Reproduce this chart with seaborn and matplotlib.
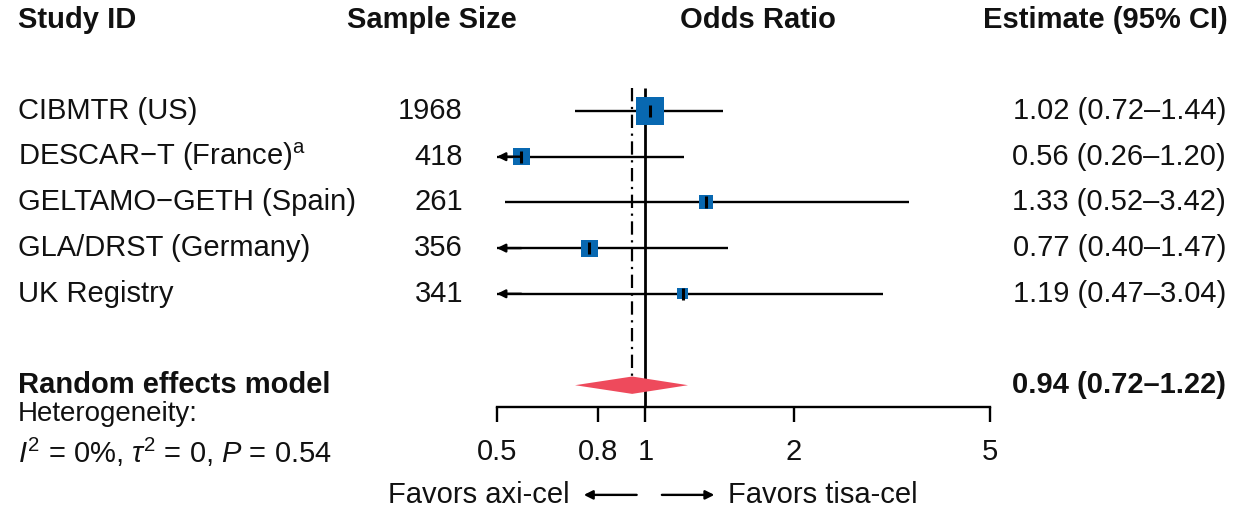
import numpy as np
import pandas as pd
import matplotlib
matplotlib.use("Agg")
import matplotlib.pyplot as plt
from matplotlib.ticker import FixedLocator, NullLocator
import seaborn as sns

# ---- data -------------------------------------------------------------
studies = [
    "CIBMTR (US)",
    "DESCAR\u2212T (France)$^{\\mathrm{a}}$",
    "GELTAMO\u2212GETH (Spain)",
    "GLA/DRST (Germany)",
    "UK Registry",
]
sample_size = [1968, 418, 261, 356, 341]
odds_ratio = [1.02, 0.56, 1.33, 0.77, 1.19]
ci_low = [0.72, 0.26, 0.52, 0.40, 0.47]
ci_high = [1.44, 1.20, 3.42, 1.47, 3.04]
weight_pct = [46.7, 17.2, 11.7, 17.2, 7.2]

pooled_or = 0.94
pooled_low = 0.72
pooled_high = 1.22
heterogeneity = r"$I^2$ = 0%, $\tau^2$ = 0, $P$ = 0.54"

x_ticks = [0.5, 0.8, 1, 2, 5]
x_tick_labels = ["0.5", "0.8", "1", "2", "5"]

# ---- style ------------------------------------------------------------
sns.set_theme(style="white")
plt.rcParams["font.family"] = ["Liberation Sans", "DejaVu Sans"]
plt.rcParams["mathtext.fontset"] = "custom"
plt.rcParams["mathtext.rm"] = "Liberation Sans"
plt.rcParams["mathtext.it"] = "Liberation Sans:italic"
plt.rcParams["mathtext.bf"] = "Liberation Sans:bold"
plt.rcParams["text.color"] = "#111111"

FS = 21
BLUE = "#0868B1"
RED = "#EE4A5C"
LW = 1.7

df = pd.DataFrame({
    "study": studies,
    "n": sample_size,
    "est": odds_ratio,
    "lo": ci_low,
    "hi": ci_high,
    "w": weight_pct,
})
df["row"] = np.arange(len(df), dtype=float)
pooled_row = len(df) + 1.0
axis_row = pooled_row + 0.48
header_row = -2.0
favors_row = pooled_row + 2.4

W, H = 1242, 512
fig = plt.figure(figsize=(W / 100, H / 100), dpi=100)
row_px, first_px = 45.7, 111
ylim = ((H - first_px) / row_px, -first_px / row_px)

# text layer spanning the whole figure
lab = fig.add_axes([0, 0, 1, 1])
lab.set_xlim(0, W)
lab.set_ylim(*ylim)
lab.axis("off")

# forest panel on a log scale
xmin, xmax = 0.5, 5
ax = fig.add_axes([497 / W, 0, (990 - 497) / W, 1])
ax.set_xscale("log")
ax.set_xlim(xmin, xmax)
ax.set_ylim(*ylim)
ax.patch.set_alpha(0)

# reference lines
ax.vlines(1, -0.5, axis_row, color="black", lw=2.0, zorder=2)
ax.vlines(pooled_or, -0.5, pooled_row - 0.2, color="black", lw=1.6,
          linestyles=(0, (6, 2.5, 1, 2.5)), zorder=2)

# confidence intervals
for _, r in df.iterrows():
    left = max(r["lo"], xmin)
    ax.plot([left, r["hi"]], [r["row"], r["row"]], color="black", lw=LW,
            solid_capstyle="butt", zorder=2, clip_on=False)
    if r["lo"] < xmin:
        ax.annotate("", xy=(xmin, r["row"]), xytext=(xmin * 1.12, r["row"]),
                    arrowprops=dict(arrowstyle="-|>", lw=LW, color="black",
                                    mutation_scale=12, shrinkA=0, shrinkB=0),
                    annotation_clip=False, zorder=4)

# study boxes, area proportional to weight
sns.scatterplot(data=df, x="est", y="row", size="w", sizes=(0, 406),
                size_norm=(0, max(weight_pct)), marker="s", color=BLUE,
                edgecolor="none", legend=False, ax=ax, zorder=3)
ax.scatter(df["est"], df["row"], marker="|", s=70, color="black",
           linewidths=2.2, zorder=4)

# pooled diamond
ax.fill([pooled_low, pooled_or, pooled_high, pooled_or],
        [pooled_row, pooled_row - 0.19, pooled_row, pooled_row + 0.19],
        color=RED, lw=0, zorder=3)

# x axis
for s in ["top", "right", "left"]:
    ax.spines[s].set_visible(False)
ax.spines["bottom"].set_position(("data", axis_row))
ax.spines["bottom"].set_color("black")
ax.spines["bottom"].set_linewidth(LW)
ax.xaxis.set_major_locator(FixedLocator(x_ticks))
ax.xaxis.set_minor_locator(NullLocator())
ax.set_xticklabels(x_tick_labels)
ax.tick_params(axis="x", which="major", bottom=True, direction="out",
               length=10.5, width=LW, color="black", pad=12,
               labelsize=FS, labelcolor="#111111")
ax.set_yticks([])
ax.set_xlabel("")
ax.set_ylabel("")

# direction arrows under the axis
arrow_kw = dict(arrowstyle="-|>", lw=LW, color="black", mutation_scale=13,
                shrinkA=0, shrinkB=0)
ax.annotate("", xy=(0.75, favors_row), xytext=(0.96, favors_row),
            arrowprops=arrow_kw, annotation_clip=False)
ax.annotate("", xy=(1.38, favors_row), xytext=(1.08, favors_row),
            arrowprops=arrow_kw, annotation_clip=False)
lab.text(570, favors_row, "Favors axi-cel", ha="right", va="center", fontsize=FS)
lab.text(728, favors_row, "Favors tisa-cel", ha="left", va="center", fontsize=FS)

# column headers
hdr = dict(fontsize=FS, fontweight="bold", va="center")
lab.text(18, header_row, "Study ID", ha="left", **hdr)
lab.text(432, header_row, "Sample Size", ha="center", **hdr)
lab.text(758, header_row, "Odds Ratio", ha="center", **hdr)
lab.text(1228, header_row, "Estimate (95% CI)", ha="right", **hdr)

# study rows
for _, r in df.iterrows():
    lab.text(18, r["row"], r["study"], ha="left", va="center", fontsize=FS)
    lab.text(463, r["row"], f"{r['n']}", ha="right", va="center", fontsize=FS)
    lab.text(1226, r["row"], f"{r['est']:.2f} ({r['lo']:.2f}\u2013{r['hi']:.2f})",
             ha="right", va="center", fontsize=FS)

# pooled row and heterogeneity
lab.text(18, pooled_row, "Random effects model", ha="left", va="center",
         fontsize=FS, fontweight="bold")
lab.text(1226, pooled_row,
         f"{pooled_or:.2f} ({pooled_low:.2f}\u2013{pooled_high:.2f})",
         ha="right", va="center", fontsize=FS, fontweight="bold")
lab.text(18, pooled_row + 0.62, "Heterogeneity:", ha="left", va="center",
         fontsize=FS - 1)
lab.text(18, pooled_row + 1.46, heterogeneity, ha="left", va="center",
         fontsize=FS)

fig.savefig("out.png", dpi=100, facecolor="white")
